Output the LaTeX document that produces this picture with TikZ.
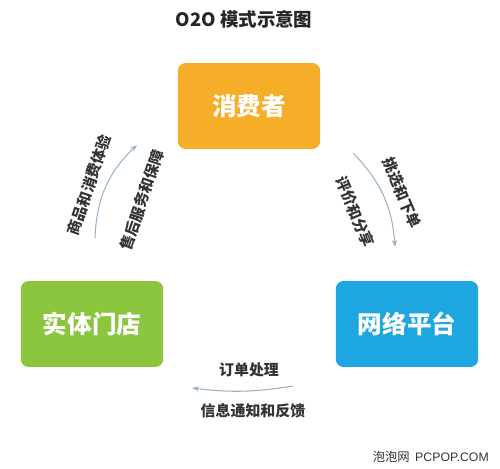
\documentclass[tikz,border=0pt]{standalone}
\usepackage{fontspec}
\setmainfont{Noto Sans CJK SC}
\newfontfamily\latinfont{Liberation Sans}
\usetikzlibrary{arrows.meta}

\definecolor{consumerorange}{HTML}{F6AD28}
\definecolor{storegreen}{HTML}{8CC63F}
\definecolor{platformblue}{HTML}{1DA6DF}
\definecolor{flowgray}{HTML}{9AB3C6}
\definecolor{labelgray}{HTML}{333333}

\tikzset{
  box/.style={rounded corners=4.5pt, minimum width=2.85cm, minimum height=1.72cm,
    text=white, font=\fontsize{14}{16}\selectfont\bfseries},
  lbl/.style={text=labelgray, font=\fontsize{8.5}{10}\selectfont\bfseries, inner sep=0pt},
  flow/.style={->, draw=flowgray, line width=0.6pt}
}

\begin{document}
\begin{tikzpicture}[x=0.02cm,y=-0.02cm,>={Stealth[length=4pt,width=3pt]}]
  \useasboundingbox (0,0) rectangle (500,469);
  % title
  \node[font=\fontsize{10.5}{12}\selectfont\bfseries, text=black!85] (title) at (244,19) {O2O 模式示意图};
  % three parties
  \node[box, fill=consumerorange] (consumer) at (249,106) {消费者};
  \node[box, fill=storegreen] (store) at (92,324) {实体门店};
  \node[box, fill=platformblue] (platform) at (407,324) {网络平台};
  % store -> consumer
  \coordinate (sc1) at (95,238);
  \coordinate (sc2) at (137,145);
  \draw[flow] (sc1) to[bend left=22] (sc2);
  \node[lbl, rotate=71] (experience) at (89,185) {商品和消费体验};
  \node[lbl, rotate=71] (service) at (142,200) {售后服务和保障};
  % consumer -> platform
  \coordinate (cp1) at (353,153);
  \coordinate (cp2) at (395,247);
  \draw[flow] (cp1) to[bend left=20] (cp2);
  \node[lbl, rotate=-67] (order) at (402,193) {挑选和下单};
  \node[lbl, rotate=-67] (review) at (355,212) {评价和分享};
  % platform -> store
  \coordinate (ps1) at (293,386);
  \coordinate (ps2) at (192,388);
  \draw[flow] (ps1) to[bend left=8] (ps2);
  \node[lbl] (handle) at (249,370) {订单处理};
  \node[lbl] (notice) at (253,411) {信息通知和反馈};
  % watermark
  \node[font=\fontsize{7}{8}\selectfont, text=black!80, anchor=east] (mark) at (495,457) {泡泡网\ \ {\latinfont PCPOP.COM}};
\end{tikzpicture}
\end{document}
